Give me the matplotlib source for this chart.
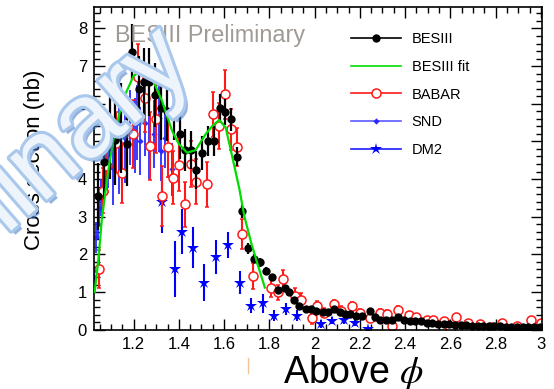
import matplotlib
matplotlib.use("Agg")
import matplotlib.pyplot as plt
from matplotlib.lines import Line2D
from matplotlib.ticker import MultipleLocator
import matplotlib.patheffects as pe

plt.rcParams['font.family'] = ['Liberation Sans', 'DejaVu Sans']
plt.rcParams['mathtext.fontset'] = 'stix'

# ---------------- data ----------------
bes_x = [1.044, 1.070, 1.095, 1.120, 1.145, 1.170, 1.195, 1.222, 1.244, 1.266, 1.293, 1.321,
         1.348, 1.378, 1.404, 1.427, 1.452, 1.478, 1.504, 1.529, 1.556, 1.580, 1.604, 1.630,
         1.655, 1.678, 1.707, 1.733, 1.758, 1.785, 1.812, 1.837, 1.867, 1.889, 1.911, 1.933,
         1.963, 1.985, 2.007, 2.037, 2.059, 2.086, 2.111, 2.133, 2.158, 2.185, 2.210, 2.244,
         2.267, 2.290, 2.315, 2.340, 2.370, 2.395, 2.420, 2.445, 2.470, 2.495, 2.520, 2.545,
         2.570, 2.595, 2.620, 2.645, 2.670, 2.695, 2.720, 2.745, 2.770, 2.795, 2.820, 2.845,
         2.870, 2.895, 2.920, 2.945, 2.970, 2.995]
bes_y = [3.54, 4.45, 5.10, 5.05, 5.35, 4.92, 7.37, 6.38, 6.58, 6.58, 6.22, 5.88,
         5.81, 5.78, 5.19, 4.77, 4.77, 4.24, 4.70, 5.01, 5.01, 5.90, 5.78, 5.59,
         4.59, 3.14, 2.16, 1.89, 1.79, 1.57, 1.39, 1.05, 1.11, 0.99, 0.80, 0.64,
         0.55, 0.55, 0.50, 0.46, 0.46, 0.55, 0.46, 0.42, 0.42, 0.37, 0.37, 0.50,
         0.33, 0.26, 0.26, 0.27, 0.33, 0.27, 0.24, 0.22, 0.22, 0.18, 0.17, 0.16,
         0.16, 0.15, 0.13, 0.12, 0.12, 0.11, 0.10, 0.10, 0.09, 0.09, 0.09, 0.08,
         0.08, 0.07, 0.07, 0.07, 0.07, 0.07]
bes_err = [0.9, 1.0, 1.1, 1.2, 1.2, 1.1, 0.75, 0.9, 0.9, 0.9, 0.85, 0.85,
           0.8, 0.75, 0.65, 0.55, 0.5, 0.5, 0.45, 0.4, 0.4, 0.35, 0.35, 0.3,
           0.25, 0.18, 0.15, 0.12, 0.12, 0.1, 0.1, 0.08, 0.08, 0.07, 0.06, 0.06,
           0.05, 0.05, 0.05, 0.05, 0.05, 0.05, 0.04, 0.04, 0.04, 0.04, 0.04, 0.04,
           0.04, 0.03, 0.03, 0.03, 0.03, 0.03, 0.03, 0.03, 0.03, 0.03, 0.03, 0.03,
           0.03, 0.03, 0.03, 0.03, 0.03, 0.03, 0.03, 0.03, 0.03, 0.03, 0.03, 0.03,
           0.03, 0.03, 0.03, 0.03, 0.03, 0.03]

fit_x = [1.028, 1.045, 1.059, 1.074, 1.095, 1.118, 1.140, 1.163, 1.200, 1.237, 1.281, 1.326,
         1.370, 1.400, 1.437, 1.474, 1.518, 1.548, 1.578, 1.607, 1.637, 1.667, 1.690, 1.720,
         1.750, 1.780]
fit_y = [1.00, 1.90, 2.89, 3.60, 4.50, 5.28, 5.80, 6.25, 6.74, 6.91, 6.69, 6.07,
         5.28, 4.93, 4.70, 4.77, 5.19, 5.41, 5.57, 5.37, 4.57, 3.75, 3.00, 2.30,
         1.70, 1.12]

babar_x = [1.047, 1.065, 1.083, 1.124, 1.147, 1.197, 1.220, 1.249, 1.274, 1.300, 1.326, 1.351,
           1.376, 1.401, 1.428, 1.452, 1.477, 1.526, 1.552, 1.578, 1.603, 1.629, 1.659, 1.678,
           1.729, 1.807, 1.837, 1.859, 1.912, 1.940, 1.990, 2.010, 2.040, 2.085, 2.115, 2.164,
           2.200, 2.244, 2.290, 2.320, 2.340, 2.370, 2.418, 2.447, 2.496, 2.525, 2.573, 2.600,
           2.625, 2.679, 2.733, 2.780, 2.800, 2.830, 2.896, 2.956, 3.000]
babar_y = [1.61, 3.69, 4.35, 4.97, 4.17, 5.19, 6.70, 6.15, 4.88, 5.60, 3.55, 4.85,
           4.04, 4.38, 3.33, 4.40, 3.93, 3.86, 5.72, 5.41, 6.25, 5.32, 4.85, 2.54,
           1.43, 1.12, 0.99, 1.34, 0.90, 0.80, 0.30, 0.62, 0.45, 0.68, 0.50, 0.62,
           0.45, 0.30, 0.45, 0.42, 0.10, 0.52, 0.38, 0.35, 0.27, 0.25, 0.24, 0.02,
           0.33, 0.18, 0.15, 0.08, 0.00, 0.19, 0.10, 0.27, 0.19]
babar_err = [0.5, 0.6, 0.7, 0.8, 0.8, 0.9, 0.9, 0.9, 0.9, 0.9, 0.8, 0.8,
             0.7, 0.7, 0.6, 0.6, 0.6, 0.6, 0.6, 0.6, 0.65, 0.55, 0.5, 0.4,
             0.35, 0.25, 0.2, 0.25, 0.2, 0.18, 0.15, 0.15, 0.12, 0.12, 0.12, 0.12,
             0.1, 0.1, 0.1, 0.1, 0.1, 0.1, 0.08, 0.08, 0.07, 0.07, 0.07, 0.07,
             0.07, 0.06, 0.06, 0.06, 0.06, 0.06, 0.06, 0.06, 0.06]

snd_x = [1.027, 1.036, 1.043, 1.047, 1.058, 1.065, 1.077, 1.087, 1.110, 1.135, 1.160, 1.185,
         1.205, 1.215, 1.228, 1.252, 1.270, 1.289, 1.311, 1.323, 1.340, 1.352, 1.370]
snd_y = [1.39, 2.45, 2.80, 3.24, 3.51, 3.69, 4.30, 4.35, 4.30, 5.00, 5.10, 5.37,
         5.15, 5.50, 5.01, 5.50, 4.90, 5.19, 5.63, 4.75, 5.10, 4.84, 4.26]
snd_err = [0.3, 0.4, 0.4, 0.4, 0.5, 0.5, 0.5, 0.6, 1.0, 1.4, 1.2, 1.0,
           1.0, 1.0, 0.9, 0.9, 0.9, 0.9, 0.9, 0.8, 0.8, 0.8, 0.7]

dm2_x = [1.326, 1.383, 1.412, 1.464, 1.511, 1.566, 1.619, 1.669, 1.718, 1.770, 1.822, 1.874,
         1.921, 2.027, 2.078, 2.129, 2.178, 2.234]
dm2_y = [3.38, 1.61, 2.60, 2.18, 1.25, 1.94, 2.25, 1.25, 0.64, 0.70, 0.37, 0.55,
         0.37, 0.15, 0.24, 0.26, 0.19, 0.02]
dm2_err = [0.8, 0.75, 0.6, 0.55, 0.5, 0.45, 0.35, 0.3, 0.2, 0.25, 0.15, 0.15,
           0.15, 0.1, 0.1, 0.1, 0.1, 0.05]

x_ticks = [1.2, 1.4, 1.6, 1.8, 2.0, 2.2, 2.4, 2.6, 2.8, 3.0]
x_ticklabels = ["1.2", "1.4", "1.6", "1.8", "2", "2.2", "2.4", "2.6", "2.8", "3"]
y_ticks = [0, 1, 2, 3, 4, 5, 6, 7, 8]

# ---------------- figure ----------------
W, H = 554, 389
fig = plt.figure(figsize=(W / 100, H / 100), dpi=100)
ax = fig.add_axes([94 / W, 1 - 329.7 / H, 448 / W, 322.7 / H])

RED = '#ff1a1a'
BLUE_SND = '#2a2aff'
BLUE_DM2 = '#0000ff'
GREEN = '#00dd00'

ax.errorbar(dm2_x, dm2_y, yerr=dm2_err, fmt='*', color=BLUE_DM2, ms=9, mew=0,
            elinewidth=1.5, capsize=0, zorder=2)
ax.errorbar(snd_x, snd_y, yerr=snd_err, fmt='D', color=BLUE_SND, ms=3.2, mew=0,
            elinewidth=1.3, capsize=1.2, capthick=1, zorder=2)
ax.errorbar(babar_x, babar_y, yerr=babar_err, fmt='o', color=RED, mfc='white', ms=6.5,
            mew=1.1, elinewidth=1.5, capsize=1.2, capthick=1, zorder=2.2)
ax.errorbar(bes_x, bes_y, yerr=bes_err, fmt='o', color='black', ms=6, mew=0,
            elinewidth=1.6, capsize=0, zorder=2.4)
ax.plot(fit_x, fit_y, color=GREEN, lw=1.6, zorder=2.6)

ax.set_xlim(1.025, 3.005)
ax.set_ylim(0, 8.57)
ax.set_xticks(x_ticks)
ax.set_xticklabels(x_ticklabels)
ax.set_yticks(y_ticks)
ax.xaxis.set_minor_locator(MultipleLocator(0.05))
ax.yaxis.set_minor_locator(MultipleLocator(0.2))
ax.tick_params(which='both', direction='in', top=True, right=True, width=1.0,
               labelsize=12, colors='black')
ax.tick_params(which='major', length=8, pad=5)
ax.tick_params(which='minor', length=4)
ax.tick_params(axis='y', pad=5)
for s in ax.spines.values():
    s.set_linewidth(1.2)

ax.text(0.047, 0.891, "BESIII Preliminary", transform=ax.transAxes, fontsize=16.8,
        color='#a09a95', ha='left', va='baseline', zorder=4)

handles = [
    Line2D([], [], color='black', marker='o', ms=6, mew=0, lw=1.2),
    Line2D([], [], color=GREEN, lw=1.2),
    Line2D([], [], color=RED, marker='o', mfc='white', ms=6.5, mew=1.1, lw=1.2),
    Line2D([], [], color='#5a5aff', marker='D', mfc=BLUE_SND, mec=BLUE_SND, ms=3.2, mew=0, lw=1.2),
    Line2D([], [], color='#1a1aff', marker='*', mfc=BLUE_DM2, ms=9, mew=0, lw=1.2),
]
labels = ["BESIII", "BESIII fit", "BABAR", "SND", "DM2"]
ax.legend(handles, labels, loc='upper left', bbox_to_anchor=(0.574, 0.923),
          frameon=False, fontsize=10.5, handlelength=3.4, handletextpad=0.75,
          labelspacing=0.95, borderpad=0, borderaxespad=0, numpoints=1)

fig.text(35 / W, 1 - 160 / H, "Cross section (nb)", rotation=90, fontsize=16,
         ha='center', va='center')
fig.text(283 / W, 1 - 383 / H, r"Above $\phi$", fontsize=27, ha='left', va='baseline')

fig.add_artist(Line2D([248 / W, 248 / W], [1 - 358 / H, 1 - 373 / H], color='#f0c49a', lw=1))

# watermark
fig.text(196 / W, 1 - 70 / H, "Preliminary", rotation=41, rotation_mode='anchor',
         ha='right', va='baseline', fontsize=76, color='#eef4fc', zorder=10,
         path_effects=[pe.SimplePatchShadow(offset=(3, -3), shadow_rgbFace='#3d74c8', alpha=0.55),
                       pe.Stroke(linewidth=4.5, foreground='#a9c8ec'),
                       pe.Normal()])

fig.savefig("out.png", dpi=100)
